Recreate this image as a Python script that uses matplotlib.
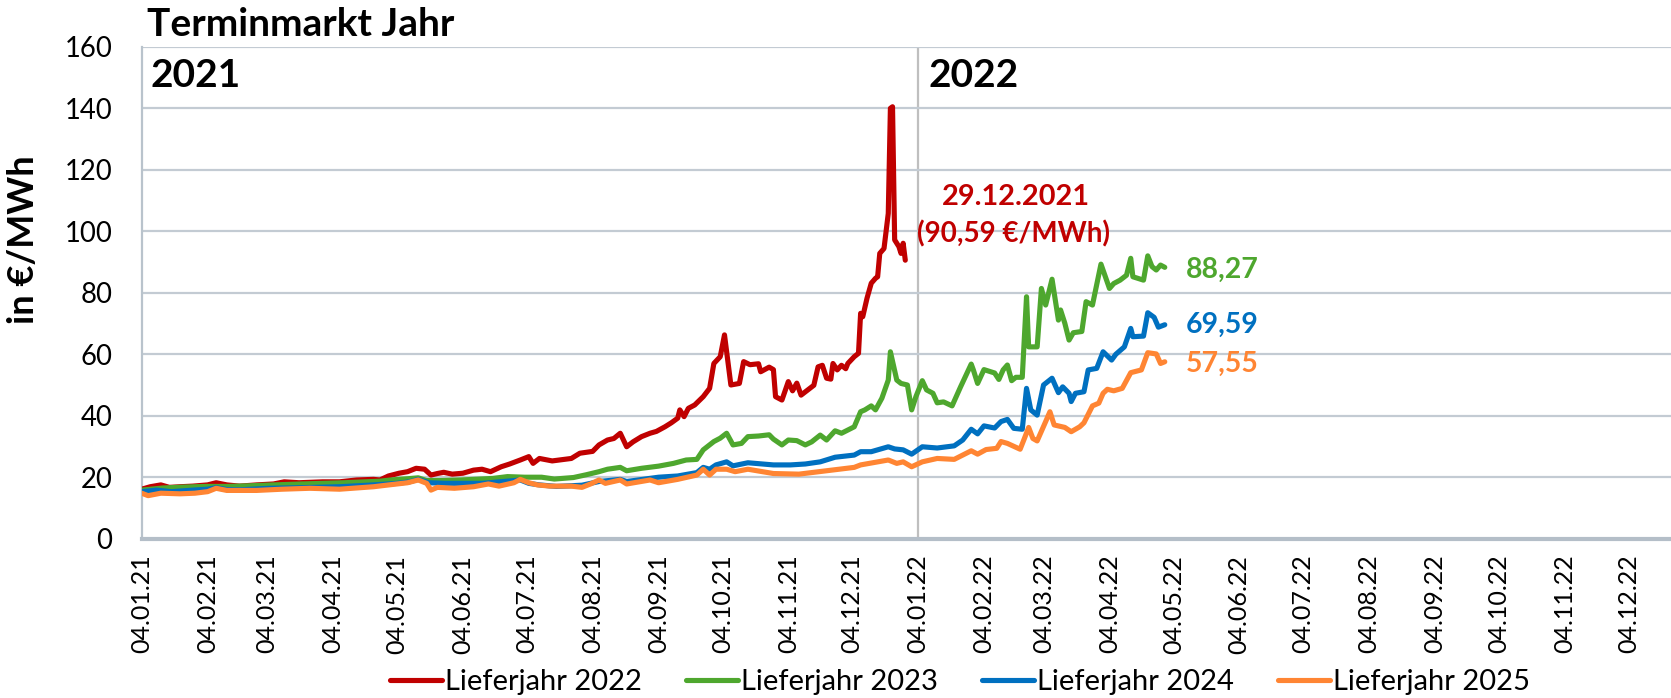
import numpy as np
import pandas as pd
import matplotlib
matplotlib.use("Agg")
import matplotlib.pyplot as plt
import matplotlib.dates as mdates

plt.rcParams['font.family'] = ['Lato', 'DejaVu Sans']

# ---------------- data ----------------
START = "2021-01-04"   # trading-day offsets below are counted in calendar days from this date

red_days = [0, 4, 9, 13, 18, 24, 31, 35, 40, 46, 54, 62, 67, 74, 85, 93, 101, 109, 112, 116, 121, 125,
            129, 133, 136, 139, 142, 146, 151, 156, 160, 164, 169, 173, 178, 182, 184, 187, 193, 202,
            206, 212, 215, 219, 222, 225, 228, 231, 235, 239, 242, 246, 249, 252, 253, 255, 257, 260,
            264, 267, 269, 272, 274, 277, 281, 283, 286, 290, 291, 295, 297, 298, 301, 304, 306, 308,
            310, 313, 316, 318, 320, 322, 324, 325, 327, 329, 331, 332, 335, 337, 338, 339, 341, 343,
            345, 346, 347, 349, 351, 352, 353, 354, 356, 357, 358, 359]
red_vals = [16.1, 16.9, 17.5, 16.7, 16.9, 17.1, 17.5, 18.2, 17.5, 17.1, 17.5, 17.8, 18.5, 18.2, 18.5,
            18.5, 19.1, 19.3, 19.1, 20.4, 21.3, 21.8, 22.9, 22.6, 20.7, 21.2, 21.6, 21.0, 21.3, 22.3,
            22.6, 21.8, 23.4, 24.3, 25.6, 26.7, 24.5, 26.1, 25.3, 26.1, 27.8, 28.4, 30.5, 32.1, 32.6,
            34.3, 29.9, 31.5, 33.2, 34.3, 34.9, 36.4, 37.7, 39.2, 41.9, 39.7, 42.4, 43.5, 46.2, 48.9,
            57.0, 59.2, 66.3, 50.0, 50.5, 57.6, 56.6, 56.9, 54.3, 55.8, 55.0, 46.2, 45.1, 51.1, 48.1,
            50.6, 46.7, 48.3, 49.9, 55.9, 56.4, 52.2, 51.9, 57.0, 54.9, 56.4, 55.3, 57.0, 59.2, 60.3,
            73.3, 72.2, 78.2, 83.1, 84.7, 85.2, 92.8, 94.4, 105.8, 140.0, 140.5, 97.2, 95.0, 92.8,
            96.1, 90.59]

green_days = [0, 10, 20, 30, 40, 50, 62, 75, 85, 95, 105, 112, 117, 125, 130, 134, 140, 150, 156, 165,
              172, 180, 188, 194, 203, 209, 215, 219, 225, 228, 235, 243, 250, 256, 261, 264, 269, 272,
              275, 278, 282, 285, 290, 295, 297, 301, 304, 308, 312, 315, 319, 322, 326, 329, 335, 338,
              340, 343, 345, 348, 351, 352, 355, 357, 360, 362, 364, 367, 369, 372, 374, 377, 381, 385,
              390, 391, 393, 396, 401, 403, 405, 407, 409, 411, 414, 416, 417, 421, 423, 425, 428, 431,
              432, 434, 436, 438, 442, 444, 447, 451, 455, 457, 460, 463, 465, 466, 471, 473, 475, 477,
              479, 481]
green_vals = [15.8, 16.5, 16.8, 17.0, 17.0, 17.2, 17.5, 17.8, 18.0, 18.2, 18.5, 18.7, 19.1, 19.5, 19.8,
              18.9, 18.9, 19.1, 19.3, 19.6, 20.2, 20.0, 20.0, 19.4, 19.9, 20.8, 21.8, 22.6, 23.2, 22.1,
              22.9, 23.6, 24.5, 25.6, 25.8, 28.9, 31.6, 32.7, 34.3, 30.5, 31.0, 33.2, 33.4, 33.8, 32.4,
              30.5, 32.1, 31.9, 30.5, 31.5, 33.7, 32.1, 35.1, 34.3, 36.4, 41.3, 41.9, 43.2, 41.9, 45.7,
              51.6, 60.8, 51.6, 50.5, 50.0, 41.9, 46.2, 51.4, 48.4, 47.3, 44.2, 44.5, 43.2, 49.4, 56.8,
              54.9, 50.5, 55.0, 53.9, 51.8, 54.9, 56.5, 51.4, 52.5, 52.5, 78.7, 62.4, 62.4, 81.4, 76.0,
              84.4, 71.1, 74.4, 70.1, 64.6, 67.0, 67.4, 77.1, 76.0, 89.3, 81.4, 83.0, 84.1, 85.7, 91.2,
              85.2, 84.1, 92.0, 88.5, 87.4, 89.0, 88.27]

blue_days = [0, 7, 14, 24, 31, 35, 40, 46, 60, 75, 93, 109, 120, 126, 130, 135, 143, 160, 175, 178, 182,
             187, 195, 207, 215, 225, 228, 243, 252, 261, 264, 267, 270, 275, 278, 285, 297, 305, 312,
             319, 326, 335, 338, 343, 351, 354, 358, 362, 367, 374, 382, 386, 390, 393, 396, 401, 404,
             407, 410, 414, 416, 418, 421, 424, 428, 431, 433, 436, 437, 439, 443, 445, 449, 452, 456,
             458, 462, 465, 466, 471, 473, 476, 478, 481]
blue_vals = [15.3, 15.8, 15.3, 15.8, 16.1, 16.6, 16.0, 15.9, 16.4, 16.6, 16.9, 17.5, 18.0, 18.5, 19.3,
             18.2, 18.0, 18.0, 18.9, 19.1, 18.0, 17.5, 17.0, 17.4, 18.6, 19.3, 18.6, 20.0, 20.4, 21.5,
             23.2, 22.6, 24.0, 25.0, 23.7, 24.7, 24.0, 24.0, 24.3, 25.0, 26.5, 27.2, 28.3, 28.3, 29.9,
             29.2, 28.9, 27.5, 29.9, 29.5, 30.2, 32.1, 35.6, 34.1, 36.7, 36.0, 38.1, 38.8, 35.9, 35.6,
             48.9, 41.9, 40.2, 50.0, 52.2, 47.5, 49.4, 47.3, 44.6, 47.3, 47.8, 54.9, 55.4, 60.8, 58.1,
             60.0, 62.4, 68.4, 65.7, 65.9, 73.5, 72.0, 68.8, 69.59]

orange_days = [0, 3, 9, 18, 25, 31, 35, 40, 54, 66, 79, 93, 109, 115, 125, 130, 134, 136, 139, 147, 156,
               163, 168, 175, 178, 182, 186, 192, 202, 207, 211, 215, 218, 225, 228, 239, 243, 252, 261,
               264, 267, 270, 275, 279, 285, 297, 309, 322, 335, 338, 351, 355, 358, 362, 367, 374, 382,
               390, 393, 397, 402, 404, 407, 413, 415, 417, 419, 421, 425, 427, 429, 434, 437, 441, 443,
               447, 450, 452, 454, 457, 461, 465, 470, 473, 477, 479, 481]
orange_vals = [14.8, 14.0, 14.8, 14.6, 14.8, 15.3, 16.4, 15.7, 15.7, 16.1, 16.4, 16.1, 16.9, 17.4, 18.2,
               19.1, 18.0, 15.8, 16.7, 16.4, 16.9, 17.8, 17.1, 18.2, 19.3, 18.2, 17.5, 17.1, 17.1, 16.7,
               17.8, 19.1, 18.0, 19.1, 17.8, 19.1, 18.2, 19.3, 20.7, 22.6, 20.7, 22.6, 22.6, 21.8, 22.6,
               21.2, 21.0, 22.1, 23.2, 24.0, 25.6, 24.5, 25.0, 23.4, 25.0, 26.1, 25.8, 28.6, 27.5, 29.0,
               29.4, 31.6, 31.0, 29.1, 32.6, 36.2, 32.6, 31.8, 38.1, 41.3, 37.0, 36.2, 34.8, 36.4, 37.7,
               43.2, 44.1, 47.3, 48.6, 48.1, 48.9, 54.0, 54.9, 60.5, 60.1, 57.0, 57.55]

series_names = ["Lieferjahr 2022", "Lieferjahr 2023", "Lieferjahr 2024", "Lieferjahr 2025"]
series_colors = ["#c00000", "#4ea72e", "#0070c0", "#ff8533"]
end_labels = ["88,27", "69,59", "57,55"]
y_ticks = [0, 20, 40, 60, 80, 100, 120, 140, 160]

# ---------------- figure ----------------
W, H = 1671, 698
fig = plt.figure(figsize=(W / 100, H / 100), dpi=100)
ax = fig.add_axes([141.7 / W, 1 - 538.7 / H, 1 - 141.7 / W, (538.7 - 46.8) / H])

start = pd.Timestamp(START)
def to_dates(days):
    return start + pd.to_timedelta(days, unit="D")

all_days = [red_days, green_days, blue_days, orange_days]
all_vals = [red_vals, green_vals, blue_vals, orange_vals]
for days, vals, name, col in zip(all_days, all_vals, series_names, series_colors):
    ax.plot(to_dates(days), vals, color=col, lw=3.7, label=name, solid_joinstyle="round",
            solid_capstyle="round", zorder=3)

ax.set_ylim(0, 160)
ax.set_yticks(y_ticks)
ax.set_xlim(start, start + pd.Timedelta(days=719))
xt = pd.date_range("2021-01-01", "2022-12-01", freq="MS") + pd.Timedelta(days=3)
ax.set_xticks(xt)
ax.xaxis.set_major_formatter(mdates.DateFormatter("%d.%m.%y"))
ax.tick_params(axis="x", rotation=90, length=0, pad=11.5, labelsize=18)
ax.tick_params(axis="y", length=0, pad=21, labelsize=19.8)

grid_col = "#c3cbd3"
ax.grid(axis="y", color=grid_col, lw=1.6, zorder=0)
for s in ["top", "right"]:
    ax.spines[s].set_visible(False)
ax.spines["left"].set_color("#b9c3cc")
ax.spines["left"].set_linewidth(1.6)
ax.spines["bottom"].set_color("#b4bec8")
ax.spines["bottom"].set_linewidth(3.0)
ax.axvline(pd.Timestamp("2022-01-04"), color="#bfbfbf", lw=1.6, zorder=1)

# year labels
ax.text(start + pd.Timedelta(days=4), 150.6, "2021", fontsize=28, fontweight="bold", va="center", ha="left")
ax.text(pd.Timestamp("2022-01-09"), 150.6, "2022", fontsize=28, fontweight="bold", va="center", ha="left")

# annotation for Lieferjahr 2022
ax.text(pd.Timestamp("2022-02-19"), 111, "29.12.2021", color="#c00000", fontsize=20.8, fontweight="bold",
        ha="center", va="center")
ax.text(pd.Timestamp("2022-02-18"), 99.3, "(90,59 €/MWh)", color="#c00000", fontsize=20, fontweight="bold",
        ha="center", va="center")

# end labels
lab_x = pd.Timestamp("2022-05-10")
for txt, yv, col in zip(end_labels, [87.5, 69.5, 57.0], series_colors[1:]):
    ax.text(lab_x, yv, txt, color=col, fontsize=20.5, fontweight="bold", ha="left", va="center")

fig.text(147 / W, 1 - 24 / H, "Terminmarkt Jahr", fontsize=28, fontweight="bold", ha="left", va="center")
fig.text(23.5 / W, 1 - 240 / H, "in €/MWh", fontsize=26, fontweight="bold", rotation=90,
         ha="center", va="center")

fig.legend(loc="center", bbox_to_anchor=(960 / W, 1 - 682 / H), ncol=4, frameon=False, fontsize=21,
           handlelength=1.8, handletextpad=0.1, columnspacing=1.5, borderaxespad=0)

fig.savefig("out.png", dpi=100)
